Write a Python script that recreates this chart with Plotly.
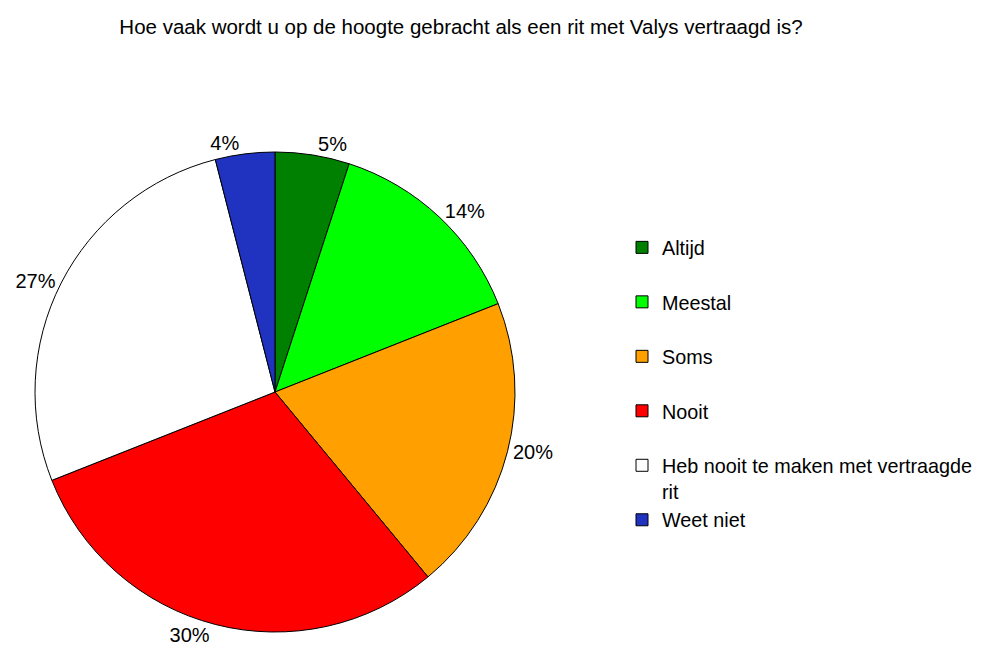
import plotly.graph_objects as go

title = "Hoe vaak wordt u op de hoogte gebracht als een rit met Valys vertraagd is?"
categories = ["Altijd", "Meestal", "Soms", "Nooit",
              "Heb nooit te maken met vertraagde rit", "Weet niet"]
legend_labels = ["Altijd<br> ", "Meestal<br> ", "Soms<br> ", "Nooit<br> ",
                 "Heb nooit te maken met vertraagde<br>rit", "Weet niet<br> "]
values = [5, 14, 20, 30, 27, 4]
colors = ["#008000", "#00FF00", "#FFA000", "#FF0000", "#FFFFFF", "#1F33C0"]

W, H = 991, 654
cx, cy, r = 267, 384, 240

fig = go.Figure(go.Pie(
    labels=legend_labels,
    values=values,
    sort=False,
    direction="clockwise",
    rotation=0,
    marker=dict(colors=colors, line=dict(color="black", width=1)),
    textinfo="percent",
    texttemplate="%{percent:.0%}",
    textposition="outside",
    textfont=dict(size=20, color="black", family="Liberation Sans, Arial"),
    outsidetextfont=dict(size=20, color="black", family="Liberation Sans, Arial"),
    domain=dict(x=[(cx - r) / W, (cx + r) / W],
                y=[(H - cy - r) / H, (H - cy + r) / H]),
    automargin=False,
    hoverinfo="skip",
))

fig.update_layout(
    width=W, height=H,
    margin=dict(l=0, r=0, t=0, b=0, autoexpand=False),
    paper_bgcolor="white",
    plot_bgcolor="white",
    font=dict(family="Liberation Sans, Arial", size=20, color="black"),
    title=dict(text=title, x=453 / W, xanchor="center", xref="container",
               y=1 - 19 / H, yanchor="middle", yref="container",
               font=dict(size=20.5, color="black")),
    legend=dict(xref="paper", yref="paper",
                x=614 / W, xanchor="left",
                y=1 - 220 / H, yanchor="top",
                valign="top", itemwidth=30,
                font=dict(size=19.8, color="black"),
                bgcolor="rgba(0,0,0,0)"),
    showlegend=True,
)

fig.write_html("out.html")
